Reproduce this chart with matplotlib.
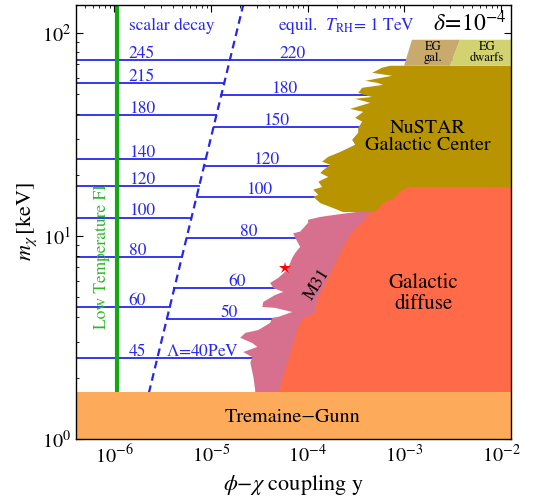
import numpy as np
import matplotlib
matplotlib.use('Agg')
import matplotlib.pyplot as plt

plt.rcParams['font.family'] = ['STIXGeneral', 'DejaVu Serif']
plt.rcParams['mathtext.fontset'] = 'stix'

# ---------------- data ----------------
x_lim = (4.0e-7, 1.27e-2)
m_lim = (1.0, 137.0)

tg_mmax = 1.7          # Tremaine-Gunn bound (keV)
lowT_y = 1.05e-6       # Low temperature FI coupling

dash_y = [2.27e-6, 2.15e-5]
dash_m = [1.685, 137.0]

left_labels = ['245', '215', '180', '140', '120', '100', '80', '60', '45']
left_m = [73.6, 56.7, 39.4, 23.9, 17.6, 12.3, 7.88, 4.47, 2.51]
right_labels = ['220', '180', '150', '120', '100', '80', '60', '50', r'$\Lambda$=40PeV']
right_m = [73.6, 49.5, 34.4, 22.1, 15.6, 9.77, 5.54, 3.90, 2.51]

# Galactic diffuse left boundary (bottom -> top)
gd_y = [4.8e-5, 4.95e-5, 6.14e-5, 7.98e-5, 8.97e-5, 1.20e-4, 1.25e-4, 1.79e-4, 2.33e-4,
        2.88e-4, 3.93e-4, 4.12e-4, 5.22e-4, 6.03e-4, 8.01e-4, 9.03e-4, 1.07e-3]
gd_m = [1.6, 1.685, 2.37, 3.56, 3.95, 4.18, 4.84, 6.80, 8.83,
        10.5, 12.0, 12.7, 13.4, 14.5, 15.4, 16.5, 17.4]

# M31 left boundary (bottom -> top)
m31_y = [2.86e-5, 2.86e-5, 2.74e-5, 2.55e-5, 2.67e-5, 2.15e-5, 3.01e-5, 2.67e-5, 2.00e-5,
         2.26e-5, 3.08e-5, 4.09e-5, 4.30e-5, 4.95e-5, 6.92e-5, 4.61e-5, 3.39e-5, 3.47e-5,
         4.61e-5, 5.59e-5, 4.40e-5, 4.09e-5, 4.95e-5, 6.14e-5, 6.92e-5, 7.43e-5, 8.36e-5,
         7.43e-5, 7.08e-5, 8.36e-5, 1.01e-4, 1.01e-4, 1.35e-4, 2.17e-4, 4.12e-4]
m31_m = [1.6, 1.74, 2.02, 2.37, 2.53, 2.68, 2.84, 2.97, 3.15,
         3.33, 3.44, 3.73, 3.95, 3.99, 4.22, 4.42, 4.47, 4.73,
         5.12, 5.30, 5.54, 5.87, 6.21, 6.80, 7.79, 8.25, 8.83,
         9.77, 10.3, 10.5, 11.6, 12.0, 12.4, 12.8, 13.3]

# NuSTAR Galactic Center left boundary (top -> bottom)
nu_y = [7.13e-4, 5.89e-4, 4.65e-4, 7.46e-4, 3.93e-4, 5.22e-4, 6.03e-4, 3.66e-4, 3.33e-4,
        4.60e-4, 3.10e-4, 4.43e-4, 2.75e-4, 3.75e-4, 3.10e-4, 3.66e-4, 3.33e-4, 3.33e-4,
        2.88e-4, 3.10e-4, 2.17e-4, 1.63e-4, 1.41e-4, 1.71e-4, 1.45e-4, 1.35e-4, 1.63e-4,
        1.29e-4, 1.41e-4, 1.14e-4, 1.29e-4, 1.14e-4, 1.35e-4, 1.84e-4, 2.33e-4]
nu_m = [68.8, 67.3, 63.5, 61.4, 58.0, 56.7, 55.4, 53.6, 50.6,
        48.3, 47.3, 45.2, 42.2, 40.8, 38.1, 36.5, 34.0, 32.2,
        29.7, 28.1, 25.9, 24.5, 23.2, 22.4, 21.1, 20.4, 19.5,
        18.5, 17.4, 16.9, 15.9, 15.6, 14.5, 13.7, 13.1]

# EG boxes
eg_m = (68.8, 92.4)
eg_gal_y = (9.93e-4, 1.20e-3)      # left edge (bottom, top)
eg_dw_y = (2.97e-3, 3.77e-3)       # gal/dwarfs boundary (bottom, top)

star_y, star_m = 5.85e-5, 6.96

# ---------------- colours ----------------
BLUE = '#2626ee'
C_TG = '#fdaa5a'
C_GD = '#ff6b48'
C_M31 = '#d6708e'
C_NU = '#b89400'
C_EGG = '#c8aa6c'
C_EGD = '#d3d271'
GREEN = '#12a812'

fig = plt.figure(figsize=(5.35, 5.0), dpi=100)
ax = fig.add_axes([76 / 535, 1 - 439 / 500, 435 / 535, 434 / 500])
ax.set_xscale('log')
ax.set_yscale('log')
ax.set_xlim(*x_lim)
ax.set_ylim(*m_lim)


def dash_x(m):
    return 10 ** np.interp(np.log10(m), np.log10(dash_m), np.log10(dash_y))


# horizontal contour lines
for lab, m in zip(left_labels, left_m):
    ax.plot([x_lim[0], dash_x(m)], [m, m], color=BLUE, lw=1.3, zorder=1)
    ax.annotate(lab, xy=(1.40e-6, m), xytext=(0, 1.6), textcoords='offset points',
                ha='left', va='baseline', color=BLUE, fontsize=12.5, zorder=7)
for i, (lab, m) in enumerate(zip(right_labels, right_m)):
    ax.plot([dash_x(m), x_lim[1]], [m, m], color=BLUE, lw=1.3, zorder=1)
    if i == len(right_labels) - 1:
        ax.annotate(lab, xy=(dash_x(m), m), xytext=(6.5, 1.6), textcoords='offset points',
                    ha='left', va='baseline', color=BLUE, fontsize=12.5, zorder=7)
    else:
        ax.annotate(lab, xy=(dash_x(m), m), xytext=(45, 1.6), textcoords='offset points',
                    ha='center', va='baseline', color=BLUE, fontsize=12.5, zorder=7)

# dashed boundary
ax.plot(dash_y, dash_m, color=BLUE, lw=1.6, ls=(0, (3.5, 2.2)), zorder=1.5)

# low temperature FI line
ax.axvline(lowT_y, color=GREEN, lw=3.0, zorder=1.6)
ax.text(7.5e-7, 7.88, 'Low Temperature FI', rotation=90, color='#2cb82c',
        fontsize=12.5, ha='center', va='center', zorder=7)

# regions
ax.fill(list(m31_y) + [1e-3, 1e-3], list(m31_m) + [m31_m[-1], m31_m[0]],
        color=C_M31, lw=0, zorder=2)
ax.fill([x_lim[1] * 1.5] + list(nu_y) + [x_lim[1] * 1.5],
        [nu_m[0]] + list(nu_m) + [nu_m[-1]], color=C_NU, lw=0, zorder=3)
ax.fill(list(gd_y) + [x_lim[1] * 1.5, x_lim[1] * 1.5],
        list(gd_m) + [gd_m[-1], gd_m[0]], color=C_GD, lw=0, zorder=4)
ax.fill([eg_gal_y[0], eg_gal_y[1], eg_dw_y[1], eg_dw_y[0]],
        [eg_m[0], eg_m[1], eg_m[1], eg_m[0]], color=C_EGG, lw=0, zorder=3)
ax.fill([eg_dw_y[0], eg_dw_y[1], x_lim[1] * 1.5, x_lim[1] * 1.5],
        [eg_m[0], eg_m[1], eg_m[1], eg_m[0]], color=C_EGD, lw=0, zorder=3)
ax.fill([x_lim[0] * 0.5, x_lim[1] * 1.5, x_lim[1] * 1.5, x_lim[0] * 0.5],
        [m_lim[0] * 0.5, m_lim[0] * 0.5, tg_mmax, tg_mmax], color=C_TG, lw=0, zorder=5)

ax.plot(star_y, star_m, marker='*', color='red', ms=9, mew=0, zorder=6)

# region labels
ax.text(1.98e-3, 79.7, 'EG\ngal.', fontsize=9, ha='center', va='center',
        linespacing=0.9, zorder=7)
ax.text(7.16e-3, 79.7, 'EG\ndwarfs', fontsize=9, ha='center', va='center',
        linespacing=0.9, zorder=7)
ax.text(1.76e-3, 30.7, 'NuSTAR\nGalactic Center', fontsize=14.5, ha='center',
        va='center', linespacing=1.05, zorder=7)
ax.text(1.56e-3, 5.18, 'Galactic\ndiffuse', fontsize=15, ha='center', va='center',
        linespacing=1.1, zorder=7)
ax.text(1.25e-4, 5.74, 'M31', fontsize=13, rotation=58, ha='center', va='center',
        rotation_mode='anchor', zorder=7)
ax.text(6.92e-5, 1.27, 'Tremaine\u2212Gunn', fontsize=14.5, ha='center', va='center',
        zorder=7)

# annotations at top
ax.text(1.40e-6, 103, 'scalar decay', color=BLUE, fontsize=12.5, ha='left',
        va='baseline', zorder=7)
ax.text(4.95e-5, 103, r'equil.  $T_{\mathrm{RH}}$= 1 TeV', color=BLUE, fontsize=12.5,
        ha='left', va='baseline', zorder=7)
ax.text(1.15e-2, 101.7, r'$\delta\!=\!10^{-4}$', fontsize=17, ha='right',
        va='baseline', zorder=7)

ax.set_xlabel(r'$\phi$' + '\u2212' + r'$\chi$ coupling y', fontsize=16, labelpad=4)
ax.set_ylabel(r'$m_\chi\,$[keV]', fontsize=16, labelpad=2)

ax.tick_params(which='both', direction='in', top=True, right=True, labelsize=14.5)
ax.tick_params(which='major', length=5, width=0.8)
ax.tick_params(which='minor', length=2.5, width=0.6)
for s in ax.spines.values():
    s.set_linewidth(1.0)
    s.set_zorder(8)

fig.savefig('out.png', dpi=100)
